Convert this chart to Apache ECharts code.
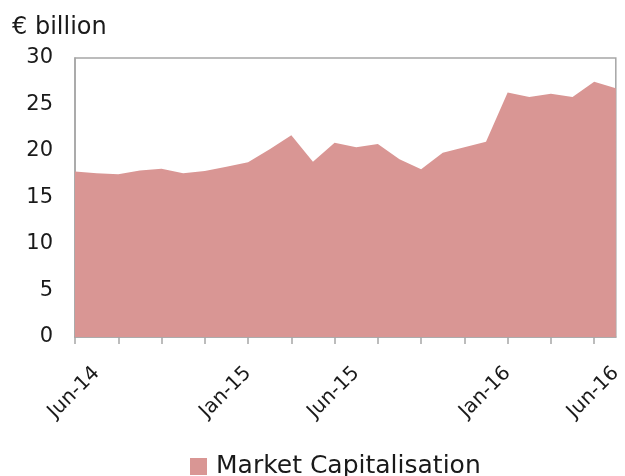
<!DOCTYPE html>
<html>
<head>
<meta charset="utf-8">
<script src="https://cdn.jsdelivr.net/npm/echarts@6/dist/echarts.min.js"></script>
<style>html,body{margin:0;padding:0;background:#fff;}#c{width:625px;height:476px;}</style>
</head>
<body>
<div id="c"></div>
<script>
const months = ['May-14','Jun-14','Jul-14','Aug-14','Sep-14','Oct-14','Nov-14','Dec-14','Jan-15','Feb-15','Mar-15','Apr-15','May-15','Jun-15','Jul-15','Aug-15','Sep-15','Oct-15','Nov-15','Dec-15','Jan-16','Feb-16','Mar-16','Apr-16','May-16','Jun-16'];
const marketCap = [17.8, 17.6, 17.5, 17.9, 18.1, 17.6, 17.85, 18.3, 18.8, 20.2, 21.7, 18.85, 20.9, 20.4, 20.75, 19.1, 18.05, 19.8, 20.4, 21.0, 26.3, 25.8, 26.15, 25.8, 27.45, 26.75];
const shownLabels = ['Jun-14','Jan-15','Jun-15','Jan-16','Jun-16'];
const seriesName = 'Market Capitalisation';
const unitLabel = '€ billion';

const FONT = 'DejaVu Sans';
const TXT = '#1a1a1a';
const chart = echarts.init(document.getElementById('c'), null, {renderer:'canvas'});
chart.setOption({
  animation: false,
  backgroundColor: '#fff',
  textStyle: {fontFamily: FONT, color: TXT},
  title: {text: unitLabel, left: 12, top: 16, padding: 0, textStyle: {fontFamily: FONT, fontSize: 24, fontWeight: 'normal', color: TXT}},
  grid: {left: 75, top: 58, right: 7, bottom: 139, show: true, borderColor: '#a6a6a6', borderWidth: 1.5, backgroundColor: 'transparent'},
  legend: {top: 454, left: 190, padding: 0, icon: 'rect', itemWidth: 17, itemHeight: 17,
    textStyle: {fontFamily: FONT, fontSize: 25, color: TXT, padding: [0, 0, 0, 4]}, data: [seriesName]},
  xAxis: {
    type: 'category', data: months, boundaryGap: false,
    axisLine: {show: true, lineStyle: {color: '#a6a6a6', width: 1.5}},
    axisTick: {show: true, interval: 1, length: 7, lineStyle: {color: '#a6a6a6', width: 1.5}},
    axisLabel: {interval: (i, v) => shownLabels.includes(v), rotate: 45, fontFamily: FONT, fontSize: 20, color: TXT, margin: 33},
    splitLine: {show: false}
  },
  yAxis: {
    type: 'value', min: 0, max: 30, interval: 5,
    axisLine: {show: true, lineStyle: {color: '#a6a6a6', width: 1.5}},
    axisTick: {show: false},
    axisLabel: {fontFamily: FONT, fontSize: 21, color: TXT, margin: 22},
    splitLine: {show: false}
  },
  series: [{
    name: seriesName, type: 'line', data: marketCap, symbol: 'none',
    lineStyle: {width: 0, color: '#D99694'},
    itemStyle: {color: '#D99694'},
    areaStyle: {color: '#D99694', opacity: 1}
  }]
});
</script>
</body>
</html>
